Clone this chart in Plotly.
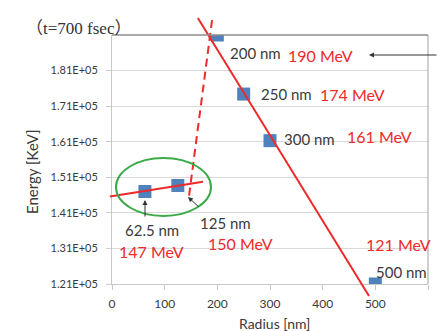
import plotly.graph_objects as go

# ---- data ----
radius_nm = [62.5, 125, 200, 250, 300, 500]
energy_kev = [147000, 148700, 191000, 174400, 161300, 121000]
size_labels = ["62.5 nm", "125 nm", "200 nm", "250 nm", "300 nm", "500 nm"]
mev_labels = ["147 MeV", "150 MeV", "190 MeV", "174 MeV", "161 MeV", "121 MeV"]

steep_fit_x = [163, 488]
steep_fit_y = [195800, 117630]
flat_fit_x = [-4, 173]
flat_fit_y = [145600, 149760]
dashed_fit_x = [190, 146]
dashed_fit_y = [195200, 145460]

x_ticks = [0, 100, 200, 300, 400, 500, 600]
y_ticks = [121000, 131000, 141000, 151000, 161000, 171000, 181000]
y_tick_text = ["1.21E+05", "1.31E+05", "1.41E+05", "1.51E+05", "1.61E+05", "1.71E+05", "1.81E+05"]

# ---- layout geometry (pixels) ----
W, H = 438, 331
PL, PR, PT, PB = 112, 428, 35, 284
XR = [0, 600]
YR = [121000, 191000]

def px_to_x(px):
    return XR[0] + (px - PL) / (PR - PL) * (XR[1] - XR[0])

def py_to_y(py):
    return YR[0] + (PB - py) / (PB - PT) * (YR[1] - YR[0])

RED = "#ee2a2a"
BLUE = "#4f81bd"
TXT = "#3a3a3a"
FONT = "Lato, Open Sans, sans-serif"

fig = go.Figure()

# markers (main axes)
fig.add_trace(go.Scatter(
    x=radius_nm, y=energy_kev, mode="markers",
    marker=dict(symbol="square", size=13, color=BLUE),
    xaxis="x", yaxis="y", showlegend=False, hoverinfo="skip"))

# fit lines on overlay axes spanning whole figure (so they may run past plot frame)
fig.add_trace(go.Scatter(x=steep_fit_x, y=steep_fit_y, mode="lines",
                         line=dict(color=RED, width=2), xaxis="x2", yaxis="y2",
                         showlegend=False, hoverinfo="skip"))
fig.add_trace(go.Scatter(x=flat_fit_x, y=flat_fit_y, mode="lines",
                         line=dict(color=RED, width=2), xaxis="x2", yaxis="y2",
                         showlegend=False, hoverinfo="skip"))
fig.add_trace(go.Scatter(x=dashed_fit_x, y=dashed_fit_y, mode="lines",
                         line=dict(color=RED, width=2, dash="8px,5px"), xaxis="x2", yaxis="y2",
                         showlegend=False, hoverinfo="skip"))

fig.update_layout(
    width=W, height=H,
    margin=dict(l=0, r=0, t=0, b=0, autoexpand=False),
    paper_bgcolor="white", plot_bgcolor="rgba(0,0,0,0)",
    xaxis=dict(domain=[PL / W, PR / W], range=XR, tickvals=x_ticks, automargin=False,
               showgrid=False, zeroline=False, showline=True, linecolor="#c8c8c8", linewidth=1,
               ticks="outside", ticklen=5, tickcolor="#c8c8c8", ticklabelstandoff=4,
               tickfont=dict(family=FONT, size=12, color=TXT), anchor="y"),
    yaxis=dict(domain=[(H - PB) / H, (H - PT) / H], range=YR, tickvals=y_ticks, ticktext=y_tick_text,
               automargin=False,
               showgrid=True, gridcolor="#d9d9d9", gridwidth=1, zeroline=False,
               showline=True, linecolor="#c8c8c8", linewidth=1,
               ticks="outside", ticklen=5, tickcolor="#d0d0d0", ticklabelstandoff=6,
               tickfont=dict(family=FONT, size=11, color=TXT), anchor="x"),
    xaxis2=dict(domain=[0, 1], range=[px_to_x(0), px_to_x(W)], visible=False, anchor="y2",
                automargin=False),
    yaxis2=dict(domain=[0, 1], range=[py_to_y(H), py_to_y(0)], visible=False, anchor="x2",
                automargin=False),
)

shapes = [
    # top frame line
    dict(type="line", xref="x domain", yref="y domain", x0=0, x1=1, y0=1, y1=1,
         line=dict(color="#8c8c8c", width=1.5)),
    # right frame line
    dict(type="line", xref="x domain", yref="y domain", x0=1, x1=1, y0=0, y1=1,
         line=dict(color="#a0a0a0", width=1)),
    # green ellipse
    dict(type="circle", xref="x", yref="y", x0=px_to_x(116), x1=px_to_x(211),
         y0=py_to_y(216), y1=py_to_y(158), line=dict(color="#3aaa48", width=2)),
]
fig.update_layout(shapes=shapes)

ann = []
# size labels (gray) and energy labels (red), offsets in pixels from the marker
size_off = [(7, -38), (48, -38), (38, -18), (43, 0), (39, 2), (26, 12)]
mev_off = [(7, -60), (63, -58), (103, -20), (109, 0), (109, 4), (23, 40)]
for i in range(len(radius_nm)):
    ann.append(dict(x=radius_nm[i], y=energy_kev[i], xref="x", yref="y", text=size_labels[i],
                    showarrow=False, xshift=size_off[i][0], yshift=size_off[i][1],
                    font=dict(family=FONT, size=15, color=TXT)))
    ann.append(dict(x=radius_nm[i], y=energy_kev[i], xref="x", yref="y", text=mev_labels[i],
                    showarrow=False, xshift=mev_off[i][0], yshift=mev_off[i][1],
                    font=dict(family=FONT, size=16, color=RED)))

# pointer arrows
ann.append(dict(x=px_to_x(145), y=py_to_y(200), xref="x", yref="y", text="",
                showarrow=True, ax=0, ay=18, arrowhead=2, arrowsize=1, arrowwidth=1,
                arrowcolor="#333333"))
ann.append(dict(x=px_to_x(188), y=py_to_y(197), xref="x", yref="y", text="",
                showarrow=True, ax=12, ay=11, arrowhead=2, arrowsize=1, arrowwidth=1,
                arrowcolor="#333333"))
ann.append(dict(x=px_to_x(369), y=py_to_y(55), xref="x", yref="y", text="",
                showarrow=True, ax=75, ay=0, arrowhead=2, arrowsize=1, arrowwidth=1,
                arrowcolor="#333333"))

# title and axis titles
ann.append(dict(x=24 / W, y=1 - 17 / H, xref="paper", yref="paper", xanchor="left",
                text="（t=700 fsec）", showarrow=False,
                font=dict(family="Liberation Serif, Noto Sans CJK JP, serif", size=17, color="#333333")))
ann.append(dict(x=21 / W, y=1 - 172 / H, xref="paper", yref="paper", text="Energy [KeV]",
                textangle=-90, showarrow=False, font=dict(family=FONT, size=15, color=TXT)))
ann.append(dict(x=274 / W, y=0, yanchor="bottom", yshift=-2, borderpad=0,
                xref="paper", yref="paper", text="Radius [nm]",
                showarrow=False, font=dict(family=FONT, size=14, color=TXT)))
fig.update_layout(annotations=ann)

fig.write_html("out.html", post_script="document.body.style.margin='0';",
               config={"displayModeBar": False})
